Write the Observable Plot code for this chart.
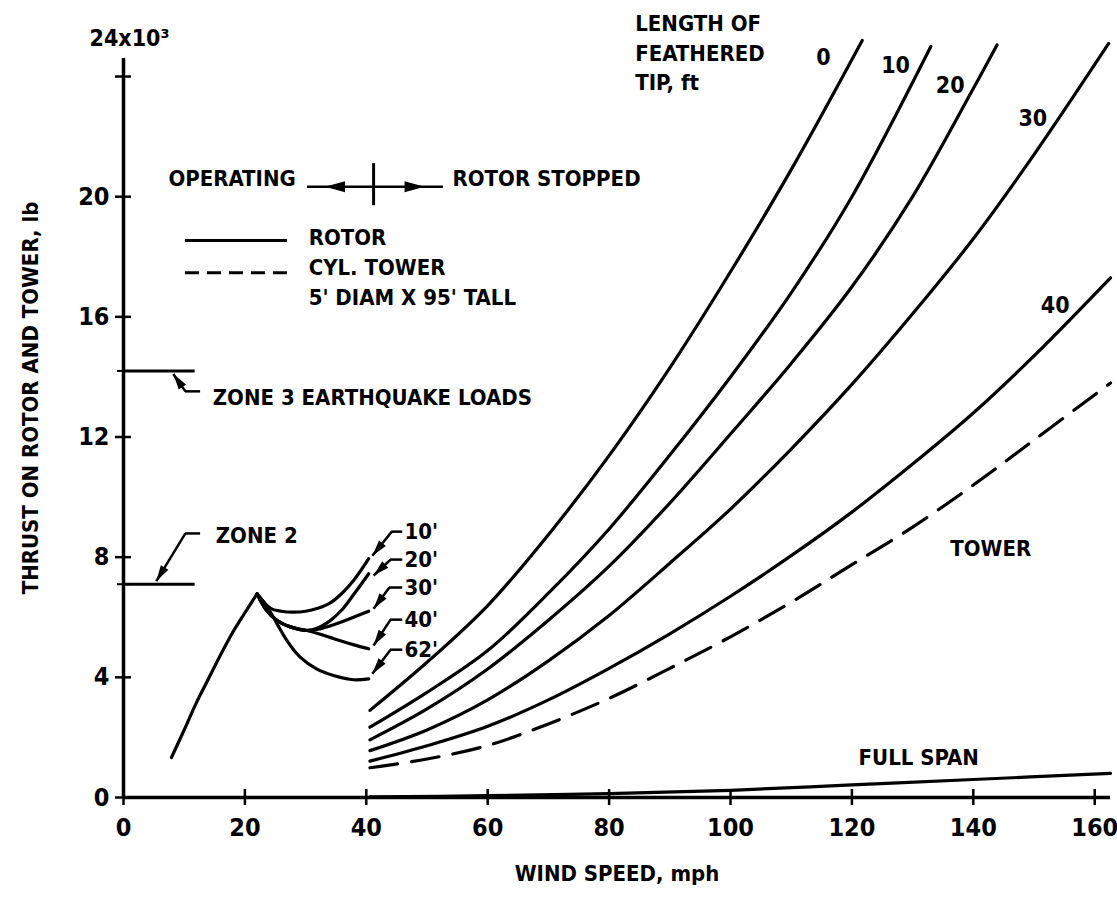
<!DOCTYPE html>
<html><head><meta charset="utf-8">
<script src="https://cdn.jsdelivr.net/npm/d3@7"></script>
<script src="https://cdn.jsdelivr.net/npm/@observablehq/plot@0.6"></script>
<style>body{margin:0;background:#fff;}</style>
</head><body><div id="chart"></div>
<script>
const FONT = "'Liberation Sans Narrow','Arial Narrow','DejaVu Sans Condensed',sans-serif";

// ---- axis ticks ----
const xTicks = [0, 20, 40, 60, 80, 100, 120, 140, 160];
const yTicks = [0, 4, 8, 12, 16, 20];
const yTickMarks = [0, 4, 8, 12, 16, 20, 24];

// ---- operating region (wind speed mph, thrust 10^3 lb) ----
const operatingRise = [[7.9,1.33],[10,2.25],[12,3.15],[14,3.95],[16,4.75],[18,5.5],[20,6.15],[22,6.78]];
const feather10 = [[22,6.78],[24.2,6.3],[26,6.2],[28,6.17],[30,6.2],[32,6.3],[34,6.47],[36,6.8],[38,7.25],[40.4,7.95]];
const feather20 = [[22,6.78],[23.5,6.25],[25.3,5.89],[27.5,5.68],[30.2,5.56],[32,5.64],[34,5.88],[36,6.25],[38,6.78],[40.4,7.45]];
const feather30 = [[22,6.78],[23.5,6.25],[25.3,5.89],[27.5,5.68],[30.2,5.56],[32,5.6],[34,5.71],[36,5.85],[38,6.01],[40.4,6.2]];
const feather40 = [[22,6.78],[23.5,6.25],[25.3,5.89],[27.5,5.68],[30.2,5.56],[32,5.46],[34,5.33],[36,5.2],[38,5.08],[40.4,4.95]];
const feather62 = [[22,6.78],[23.7,6.34],[25.3,5.78],[26.9,5.23],[29.1,4.67],[31.8,4.28],[34.6,4.06],[37.9,3.92],[40.4,3.95]];

// ---- rotor stopped, by length of feathered tip (ft) ----
const tip0  = [[40.6,2.9],[50,4.5],[60,6.39],[70,8.75],[80,11.38],[90,14.3],[100,17.5],[110,20.9],[121.7,25.2]];
const tip10 = [[40.6,2.34],[50,3.5],[60,4.89],[70,6.8],[80,8.94],[90,11.4],[100,14.0],[110,16.8],[120,20.0],[133,25.0]];
const tip20 = [[40.6,1.92],[50,2.95],[60,4.28],[70,5.9],[80,7.7],[90,9.8],[100,12.1],[110,14.45],[120,17.0],[130,20.0],[140,23.6],[143.9,25.05]];
const tip30 = [[40.6,1.56],[50,2.25],[60,3.25],[70,4.55],[80,6.06],[90,7.8],[100,9.6],[110,11.6],[120,13.75],[130,16.1],[140,18.6],[150,21.4],[162.3,25.1]];
const tip40 = [[40.6,1.21],[50,1.72],[60,2.37],[70,3.25],[80,4.3],[90,5.45],[100,6.7],[110,8.05],[120,9.5],[130,11.1],[140,12.8],[150,14.7],[162.6,17.3]];
const fullSpan = [[40.6,0.02],[60,0.06],[80,0.13],[100,0.24],[120,0.42],[140,0.6],[162.6,0.8]];
const tower = [[40.6,0.99],[50,1.28],[60,1.73],[70,2.45],[80,3.3],[90,4.3],[100,5.35],[110,6.5],[120,7.75],[130,9.0],[140,10.4],[150,11.9],[162.6,13.8]];

// ---- earthquake loads ----
const zoneLoads = [14.2, 7.1];

// ---- text labels ----
const noteLabels = [
  {x:7.4,  y:20.6,  text:"OPERATING"},
  {x:54.2, y:20.6,  text:"ROTOR STOPPED"},
  {x:30.5, y:18.64, text:"ROTOR"},
  {x:30.5, y:17.64, text:"CYL. TOWER"},
  {x:30.5, y:16.64, text:"5' DIAM X 95' TALL"},
  {x:14.7, y:13.31, text:"ZONE 3 EARTHQUAKE LOADS"},
  {x:15.2, y:8.72,  text:"ZONE 2"},
  {x:136.2,y:8.29,  text:"TOWER"},
  {x:121.1,y:1.33,  text:"FULL SPAN"},
  {x:84.3, y:25.76, text:"LENGTH OF"},
  {x:84.3, y:24.76, text:"FEATHERED"},
  {x:84.3, y:23.8,  text:"TIP, ft"},
  {x:46.3, y:8.85,  text:"10'"},
  {x:46.3, y:7.92,  text:"20'"},
  {x:46.3, y:6.99,  text:"30'"},
  {x:46.3, y:5.92,  text:"40'"},
  {x:46.3, y:4.92,  text:"62'"}
];
const tipLabels = [
  {x:115.3, y:24.63, text:"0"},
  {x:127.2, y:24.36, text:"10"},
  {x:136.2, y:23.69, text:"20"},
  {x:149.8, y:22.6,  text:"30"},
  {x:153.5, y:16.37, text:"40"}
];
const pointerArrows = [
  {x1:10.2, y1:8.79,  x2:5.4,  y2:7.2},
  {x1:10.2, y1:13.52, x2:8.2,  y2:14.1},
  {x1:44.2, y1:8.85,  x2:41.0, y2:8.05},
  {x1:44.0, y1:7.92,  x2:41.2, y2:7.39},
  {x1:43.8, y1:6.99,  x2:41.2, y2:6.28},
  {x1:44.0, y1:5.92,  x2:41.2, y2:5.06},
  {x1:44.0, y1:4.92,  x2:41.0, y2:4.12}
];
const leaders = [
  {x1:10.2, x2:12.7, y:8.79},
  {x1:10.2, x2:12.7, y:13.52},
  {x1:44.2, x2:46.0, y:8.85},
  {x1:44.0, x2:46.0, y:7.92},
  {x1:43.8, x2:46.0, y:6.99},
  {x1:44.0, x2:46.0, y:5.92},
  {x1:44.0, x2:46.0, y:4.92}
];
const regimeDivide = {x:41.2, y:20.33, from:30.3, to:52.7, y1:19.7, y2:21.1};
const regimeHeads = [{x:33.2, y:20.33, rot:180},{x:49.6, y:20.33, rot:0}];
const legendSolid = [{x1:10.2, x2:27.0, y:18.54}];
const legendDashed = [{x1:10.2, x2:27.0, y:17.47}];

// ---- build tables ----
const solidSeries = {operatingRise, feather10, feather20, feather30, feather40, feather62, tip0, tip10, tip20, tip30, tip40, fullSpan};
const solidData = Object.entries(solidSeries).flatMap(([k, pts]) => pts.map(([x, y]) => ({series:k, x, y})));
const towerData = tower.map(([x, y]) => ({x, y}));

// filled, elongated arrowhead with its tip at the anchor point
const arrowHead = {
  draw(ctx, size) {
    const r = Math.sqrt(size / Math.PI);
    ctx.moveTo(0, 0);
    ctx.lineTo(-2 * r, -r * 0.55);
    ctx.lineTo(-2 * r, r * 0.55);
    ctx.closePath();
  }
};

const baseOpts = {
  width: 1117, height: 911,
  marginLeft: 123, marginRight: 7, marginTop: 58, marginBottom: 114,
  x: {domain: [0, 162.6]},
  y: {domain: [0, 24.6]},
  style: {fontFamily: FONT, fontWeight: "bold", color: "#000", background: "#fff", overflow: "visible"}
};

// first pass to obtain the scales, so arrowheads can be oriented in screen space
const probe = Plot.plot({...baseOpts, marks: [Plot.ruleY([0])]});
const sx = probe.scale("x"), sy = probe.scale("y");
const heads = pointerArrows.map(a => {
  const dx = sx.apply(a.x2) - sx.apply(a.x1);
  const dy = sy.apply(a.y2) - sy.apply(a.y1);
  return {x: a.x2, y: a.y2, rot: Math.atan2(dy, dx) * 180 / Math.PI};
});

const chart = Plot.plot({
  ...baseOpts,
  marks: [
    // axes
    Plot.ruleX([0], {y1: 0, y2: 24.6, strokeWidth: 3.5}),
    Plot.ruleY([0], {x1: 0, x2: 162.6, strokeWidth: 3.5}),
    Plot.ruleY(yTickMarks, {y: d => d, x1: 0, x2: 0, insetLeft: -8, insetRight: -8, strokeWidth: 2.5}),
    Plot.ruleY(zoneLoads, {y: d => d, x1: 0, x2: 0, insetLeft: -6, insetRight: -6, strokeWidth: 2}),
    Plot.ruleX(xTicks, {x: d => d, y1: 0, y2: 0, insetTop: -8, insetBottom: -8, strokeWidth: 2.5}),
    Plot.axisX({ticks: xTicks, tickSize: 0, tickPadding: 21, fontSize: 25, label: null, tickFormat: d => String(d)}),
    Plot.axisY({ticks: yTicks, tickSize: 0, tickPadding: 14, fontSize: 25, label: null, tickFormat: d => String(d)}),
    Plot.text(["24x10³"], {x: 0, y: 24.6, dx: 6, dy: -20, fontSize: 23}),
    Plot.text(["WIND SPEED, mph"], {frameAnchor: "bottom", dy: 83, fontSize: 22}),
    Plot.text(["THRUST ON ROTOR AND TOWER, lb"], {x: 0, y: 13.3, dx: -93, rotate: -90, fontSize: 22}),

    // earthquake loads
    Plot.ruleY(zoneLoads, {y: d => d, x1: 0, x2: 11.8, strokeWidth: 3}),

    // curves
    Plot.line(solidData, {x: "x", y: "y", z: "series", curve: "catmull-rom", strokeWidth: 3.2}),
    Plot.line(towerData, {x: "x", y: "y", curve: "catmull-rom", strokeWidth: 3.2, strokeDasharray: "28,14"}),

    // legend
    Plot.ruleY(legendSolid, {y: "y", x1: "x1", x2: "x2", strokeWidth: 3}),
    Plot.ruleY(legendDashed, {y: "y", x1: "x1", x2: "x2", strokeWidth: 3, strokeDasharray: "14,8"}),

    // regime divider
    Plot.ruleY([regimeDivide], {y: "y", x1: "from", x2: "to", strokeWidth: 2.5}),
    Plot.ruleX([regimeDivide], {x: "x", y1: "y1", y2: "y2", strokeWidth: 3}),
    Plot.dot(regimeHeads, {x: "x", y: "y", symbol: arrowHead, r: 10, rotate: "rot", fill: "black", stroke: "none"}),

    // pointers
    Plot.ruleY(leaders, {y: "y", x1: "x1", x2: "x2", strokeWidth: 2.5}),
    Plot.link(pointerArrows, {x1: "x1", y1: "y1", x2: "x2", y2: "y2", strokeWidth: 2.5}),
    Plot.dot(heads, {x: "x", y: "y", symbol: arrowHead, r: 8, rotate: "rot", fill: "black", stroke: "none"}),

    // text
    Plot.text(noteLabels, {x: "x", y: "y", text: "text", textAnchor: "start", fontSize: 22}),
    Plot.text(tipLabels, {x: "x", y: "y", text: "text", fontSize: 23})
  ]
});
document.getElementById("chart").appendChild(chart);
</script>
</body></html>
